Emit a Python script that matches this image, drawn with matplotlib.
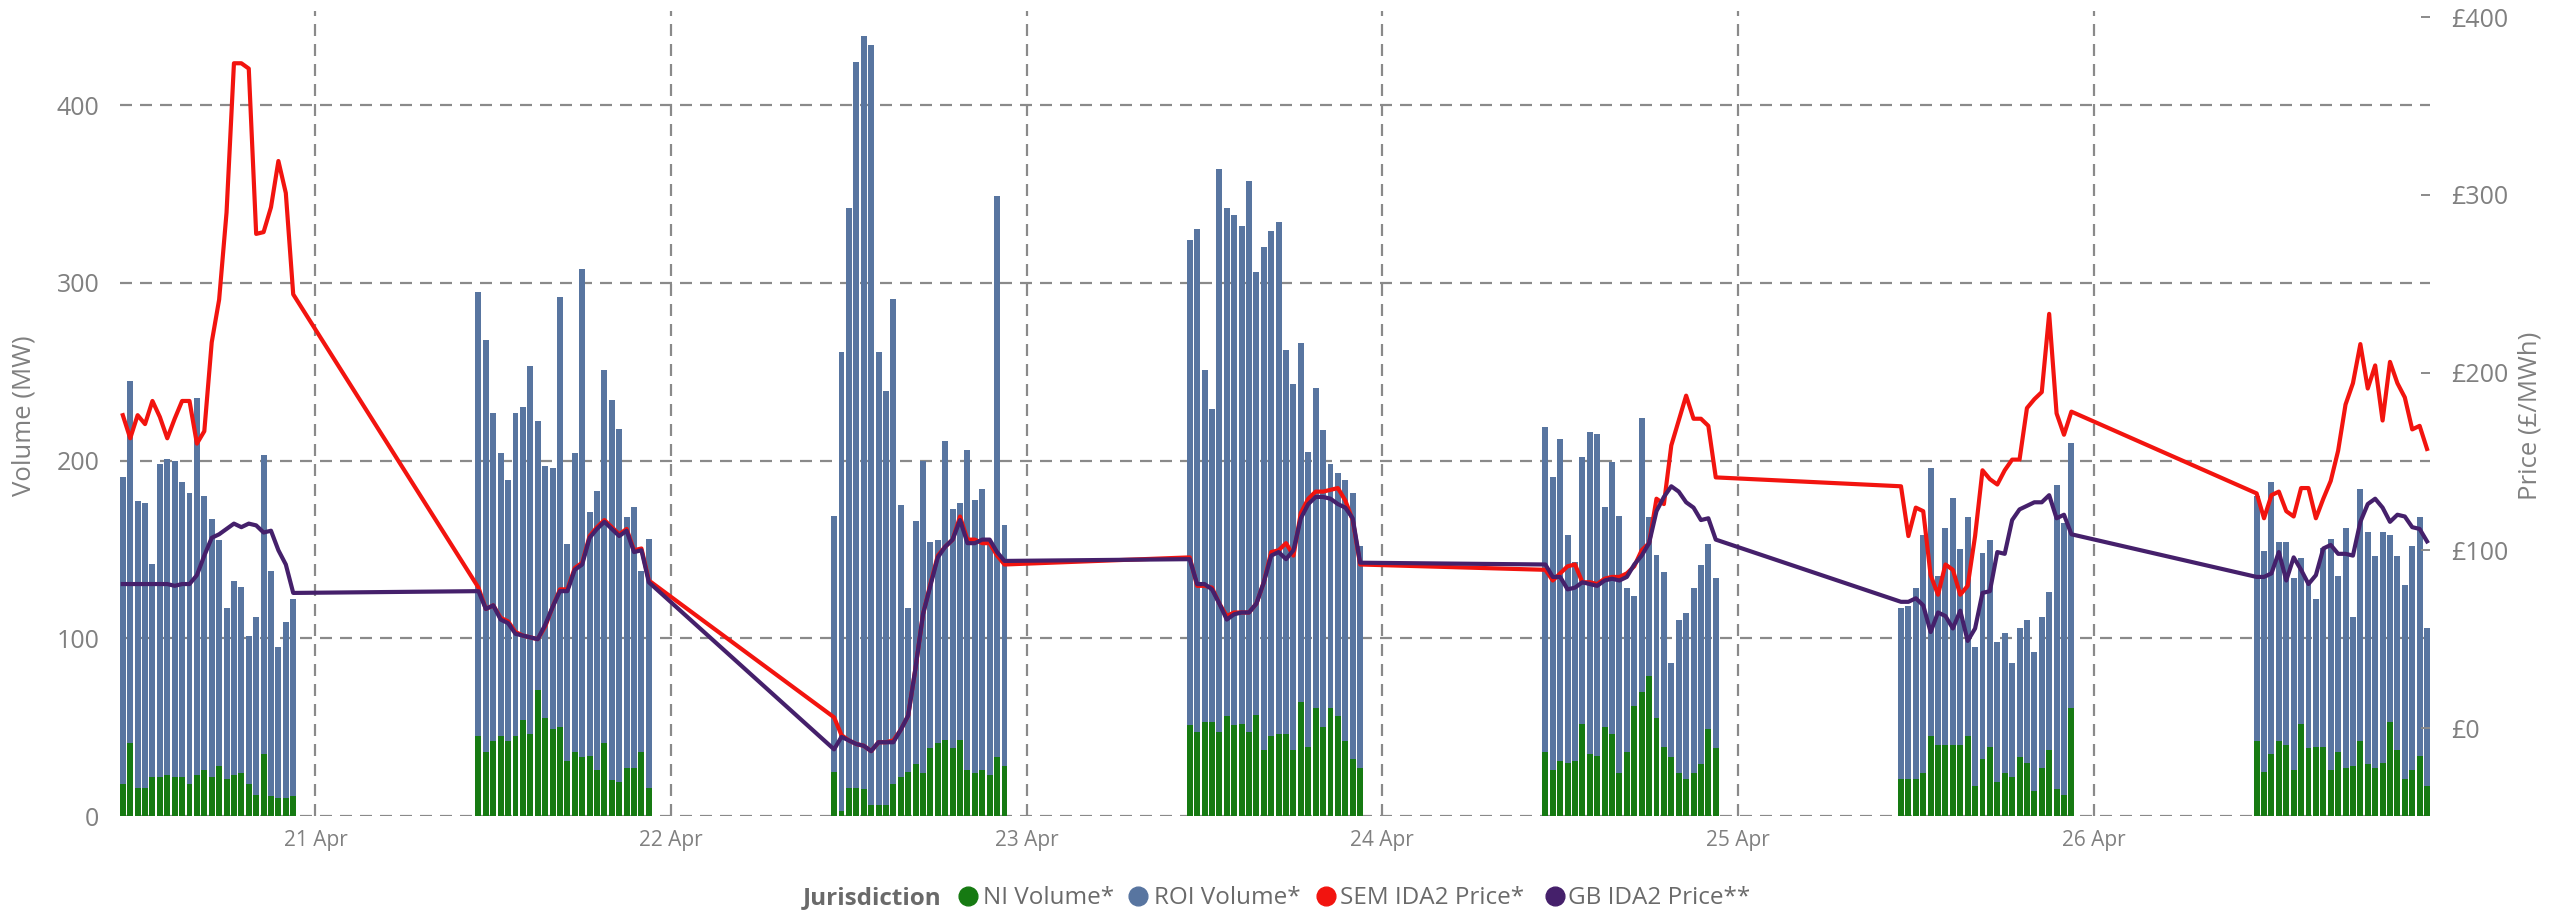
import datetime as dt
import matplotlib
matplotlib.use("Agg")
import matplotlib.pyplot as plt
import matplotlib.dates as mdates
from matplotlib.lines import Line2D
from matplotlib.ticker import FuncFormatter, FixedLocator

plt.rcParams['font.family'] = ['Open Sans', 'DejaVu Sans']

# ---------------- data ----------------
days = ["2024-04-20", "2024-04-21", "2024-04-22", "2024-04-23",
        "2024-04-24", "2024-04-25", "2024-04-26"]
periods_per_day = 24          # IDA2 half-hours 11:00 .. 22:30

ni_volume = [
    18, 41, 16, 16, 22, 22, 23, 22, 22, 18, 23, 26, 22, 28, 21, 23, 24, 18, 12, 35, 11, 10, 10, 11,
    45, 36, 42, 45, 42, 45, 54, 46, 71, 55, 49, 50, 31, 36, 33, 34, 26, 41, 20, 19, 27, 27, 36, 16,
    25, 3, 16, 16, 15, 6, 6, 6, 18, 22, 25, 29, 24, 38, 41, 43, 38, 43, 26, 24, 26, 23, 33, 28,
    51, 47, 53, 53, 47, 56, 51, 52, 47, 57, 37, 45, 46, 46, 37, 64, 39, 61, 50, 61, 56, 42, 32, 27,
    36, 26, 31, 30, 31, 52, 35, 34, 50, 46, 24, 36, 62, 70, 79, 55, 39, 33, 24, 21, 24, 29, 49, 38,
    21, 21, 21, 24, 45, 40, 40, 40, 40, 45, 17, 32, 39, 19, 24, 22, 33, 30, 14, 27, 37, 15, 12, 61,
    42, 25, 35, 42, 40, 26, 52, 38, 39, 39, 26, 36, 27, 28, 42, 29, 27, 30, 53, 37, 21, 26, 34, 17,
]
roi_volume = [
    173, 204, 161, 160, 120, 176, 178, 178, 166, 164, 212, 154, 145, 127, 96, 109, 105, 83, 100, 168, 127, 85, 99, 111,
    250, 232, 185, 159, 147, 182, 176, 207, 151, 142, 147, 242, 122, 168, 275, 137, 157, 210, 214, 199, 141, 147, 102, 140,
    144, 258, 326, 408, 424, 428, 255, 233, 273, 153, 92, 137, 176, 116, 114, 168, 135, 133, 180, 154, 158, 130, 316, 136,
    273, 283, 198, 176, 317, 286, 287, 280, 310, 249, 283, 284, 288, 216, 206, 202, 166, 180, 167, 137, 137, 147, 150, 125,
    183, 165, 181, 128, 112, 150, 181, 181, 124, 153, 145, 92, 62, 154, 89, 92, 98, 53, 86, 93, 104, 112, 104, 96,
    96, 97, 107, 134, 151, 95, 122, 139, 110, 123, 78, 116, 116, 79, 79, 64, 73, 80, 78, 85, 89, 171, 153, 149,
    138, 124, 153, 112, 114, 108, 93, 93, 83, 112, 130, 99, 135, 84, 142, 131, 119, 130, 105, 109, 109, 126, 134, 89,
]
sem_price = [
    176, 163, 176, 171, 184, 175, 163, 174, 184, 184, 160, 167, 217, 241, 290, 374, 374, 371, 278, 279, 293, 319, 301, 244,
    79, 67, 69, 62, 60, 54, 52, 51, 50, 57, 68, 78, 78, 90, 93, 108, 113, 117, 113, 109, 112, 100, 101, 83,
    6, -4, -7, -9, -10, -13, -8, -8, -7, -1, 7, 34, 64, 81, 97, 102, 106, 119, 106, 106, 104, 104, 97, 92,
    96, 80, 80, 79, 70, 63, 65, 65, 65, 70, 82, 99, 100, 104, 97, 121, 129, 133, 133, 134, 135, 128, 117, 92,
    89, 83, 87, 91, 92, 82, 82, 81, 84, 85, 85, 87, 91, 100, 104, 129, 126, 159, 173, 187, 174, 174, 170, 141,
    136, 108, 124, 122, 86, 75, 92, 89, 75, 80, 108, 145, 140, 137, 145, 151, 151, 180, 185, 189, 233, 177, 165, 178,
    132, 118, 131, 133, 122, 119, 135, 135, 118, 129, 139, 156, 182, 194, 216, 191, 204, 173, 206, 194, 186, 168, 170, 157,
]
gb_price = [
    81, 81, 81, 81, 81, 81, 81, 80, 81, 81, 86, 97, 107, 109, 112, 115, 113, 115, 114, 110, 111, 100, 92, 76,
    77, 67, 69, 61, 59, 53, 52, 51, 50, 58, 68, 77, 77, 89, 92, 107, 112, 116, 112, 108, 111, 99, 100, 82,
    -12, -5, -7, -9, -10, -13, -8, -8, -8, -1, 7, 34, 64, 80, 96, 102, 106, 117, 104, 104, 106, 106, 99, 94,
    95, 81, 81, 78, 70, 61, 64, 65, 65, 70, 82, 97, 99, 95, 100, 118, 126, 130, 130, 129, 126, 124, 118, 93,
    92, 85, 85, 78, 79, 82, 81, 80, 83, 84, 83, 85, 92, 97, 104, 122, 130, 136, 133, 127, 124, 117, 118, 106,
    71, 71, 73, 69, 54, 65, 63, 56, 66, 49, 56, 76, 77, 99, 98, 117, 123, 125, 127, 127, 131, 118, 120, 109,
    85, 85, 87, 99, 83, 96, 89, 81, 86, 101, 103, 98, 98, 97, 116, 126, 129, 124, 116, 120, 119, 113, 112, 105,
]
volume_ticks = [0, 100, 200, 300, 400]
price_ticks = [0, 100, 200, 300, 400]
series_names = ["NI Volume*", "ROI Volume*", "SEM IDA2 Price*", "GB IDA2 Price**"]
legend_title = "Jurisdiction"

# ---------------- build time axis ----------------
times = []
for d in days:
    base = dt.datetime.strptime(d, "%Y-%m-%d") + dt.timedelta(hours=11)
    for k in range(periods_per_day):
        times.append(base + dt.timedelta(minutes=30 * k))

# ---------------- styling ----------------
C_NI = "#167a12"
C_ROI = "#5875a0"
C_SEM = "#f2140f"
C_GB = "#45206b"
C_GRID = "#8a8a8a"
C_TICK = "#808080"
C_LEG = "#6a6a6a"

W, H = 2563, 911
fig = plt.figure(figsize=(W / 100, H / 100), dpi=100)
ax_l, ax_r, ax_t, ax_b = 119.6, 2430, 11, 816
ax = fig.add_axes([ax_l / W, 1 - ax_b / H, (ax_r - ax_l) / W, (ax_b - ax_t) / H])
ax2 = ax.twinx()

bar_w = 24 / 1440.0
ax.bar(times, ni_volume, width=bar_w, color=C_NI, zorder=2, linewidth=0)
ax.bar(times, roi_volume, width=bar_w, bottom=ni_volume, color=C_ROI, zorder=2, linewidth=0)

ax2.plot(times, sem_price, color=C_SEM, lw=3.0, solid_joinstyle='round', zorder=3)
ax2.plot(times, gb_price, color=C_GB, lw=3.0, solid_joinstyle='round', zorder=4)

x0 = dt.datetime(2024, 4, 20, 10, 47)
x1 = dt.datetime(2024, 4, 26, 22, 42)
ax.set_xlim(x0, x1)
ax.set_ylim(0, 452.9)
ax2.set_ylim(-49.5, 403.4)

for a in (ax, ax2):
    for s in a.spines.values():
        s.set_visible(False)

ax.set_axisbelow(True)
dash = (0, (5.4, 3.6))
ax.xaxis.set_major_locator(mdates.DayLocator())
ax.xaxis.set_major_formatter(mdates.DateFormatter('%d %b'))
ax.yaxis.set_major_locator(FixedLocator(volume_ticks))
ax.grid(True, axis='both', color=C_GRID, linestyle=dash, linewidth=1.6, zorder=0)

ax.tick_params(axis='x', length=0, pad=10, labelsize=15, labelcolor=C_TICK)
ax.tick_params(axis='y', length=0, pad=14.5, labelsize=18, labelcolor=C_TICK)

ax2.yaxis.set_major_locator(FixedLocator(price_ticks))
ax2.yaxis.set_major_formatter(FuncFormatter(lambda v, p: "£{:.0f}".format(v)))
ax2.tick_params(axis='y', direction='in', length=6.5, width=1.4, color=C_GRID,
                pad=15.5, labelsize=18, labelcolor=C_TICK)

fig.text(24 / W, 1 - 415.5 / H, "Volume (MW)", rotation=90, ha='center', va='center',
         fontsize=18.5, color=C_TICK)
fig.text(2530 / W, 1 - 415.5 / H, "Price (£/MWh)", rotation=90, ha='center', va='center',
         fontsize=18.5, color=C_TICK)

# ---------------- legend ----------------
base_y = 1 - 904 / H
mid_y = 1 - 896 / H
fig.text(803 / W, base_y, legend_title, ha='left', va='baseline', fontsize=17.5,
         fontweight='bold', color=C_LEG)
marker_x = [968, 1138, 1326, 1555]
text_x = [983, 1154, 1340, 1568]
colors = [C_NI, C_ROI, C_SEM, C_GB]
for mx, tx, c, name in zip(marker_x, text_x, colors, series_names):
    fig.add_artist(Line2D([mx / W], [mid_y], marker='o', markersize=13.5, color=c,
                          linestyle='none', transform=fig.transFigure))
    fig.text(tx / W, base_y, name, ha='left', va='baseline', fontsize=17.5, color=C_LEG)

fig.savefig("out.png", dpi=100)
